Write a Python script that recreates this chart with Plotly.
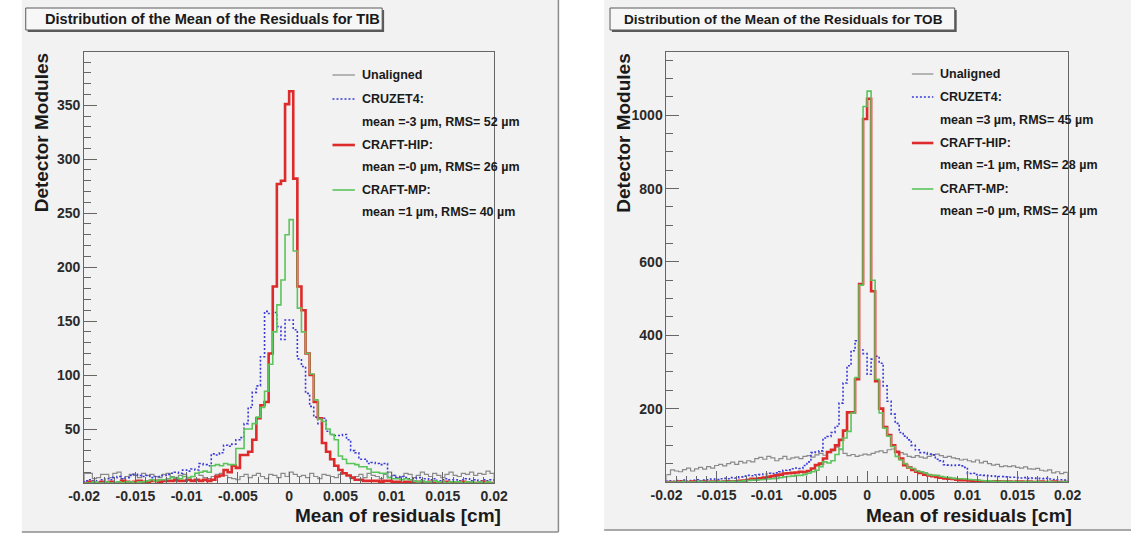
import numpy as np
import plotly.graph_objects as go

# ---------------- data ----------------
BIN_LO, BIN_HI, N_BINS = -0.02, 0.02, 100

TIB_UNALIGNED = [9,9,4,5,8,8,5,9,10,4, 6,8,7,5,9,7,8,6,5,8,
                 9,6,4,7,8,5,6,9,7,5, 4,6,8,9,7,5,4,3,6,8,
                 5,7,9,6,4,8,7,5,9,6, 10,8,6,7,5,9,6,4,8,7,
                 6,5,8,9,7,4,6,8,5,9, 7,6,4,8,10,7,5,6,9,8,
                 5,7,10,8,6,9,7,5,8,10, 7,6,9,8,10,7,9,8,11,9]
TIB_CRUZET4 = [2,3,2,1,3,4,3,5,6,4, 5,7,8,7,6,7,5,6,6,7,
               8,9,10,9,12,11,13,12,18,17, 16,27,26,28,35,34,36,40,42,55,
               70,84,90,117,159,157,158,145,133,151, 151,142,115,108,83,71,61,55,60,48,
               45,44,44,45,40,30,28,22,22,18, 19,18,17,18,6,7,5,6,5,4,
               4,5,3,4,3,4,2,3,4,3, 3,2,3,4,2,3,2,3,2,3]
TIB_CRAFT_HIP = [0,1,0,0,1,0,1,0,0,2, 1,0,1,2,1,1,2,2,1,2,
                 2,2,3,2,2,3,2,3,2,3, 2,3,6,7,12,10,16,14,26,26,
                 29,40,60,72,75,120,182,277,280,351, 363,282,182,160,120,100,75,60,37,29,
                 22,16,12,9,7,5,3,3,2,2, 2,2,1,2,2,1,1,0,1,1,
                 0,1,0,0,1,0,0,0,1,0, 0,0,1,0,0,0,0,1,0,0]
TIB_CRAFT_MP = [0,0,1,0,0,1,0,0,1,0, 1,1,0,1,1,2,3,2,3,3,
                4,5,5,4,6,5,6,9,10,11, 10,16,17,16,18,17,17,32,32,50,
                50,55,61,70,85,110,140,165,188,230, 244,215,162,140,120,101,77,59,57,50,
                45,40,25,22,18,18,17,15,15,13, 10,10,9,9,5,4,4,3,4,3,
                2,1,2,1,1,2,1,1,0,1, 1,1,0,1,1,0,1,0,1,0]

TOB_UNALIGNED = [20,33,30,28,34,38,30,36,40,35, 42,38,45,48,44,50,54,48,56,52,
                 58,55,64,67,62,70,66,58,64,70, 62,66,68,64,70,72,68,74,78,73,
                 80,85,95,88,78,72,75,70,73,76, 74,78,82,85,80,88,90,84,80,76,
                 70,67,72,68,65,70,74,76,72,67, 70,66,64,60,62,58,55,60,52,56,
                 50,46,48,42,44,42,44,40,38,41, 36,35,37,32,30,33,25,28,23,26]
TOB_CRUZET4 = [3,2,4,3,5,2,4,6,3,5, 6,8,7,9,10,9,12,11,14,16,
               18,17,19,20,22,24,23,25,28,32, 33,36,38,37,45,55,80,82,85,120,
               124,135,152,215,270,317,358,385,360,350, 294,335,343,324,262,220,185,160,135,125,
               115,100,88,80,80,76,74,62,58,47, 46,45,46,44,40,23,24,20,19,18,
               17,16,15,15,14,13,13,12,11,12, 10,11,10,9,10,8,7,6,6,5]
TOB_CRAFT_HIP = [0,0,0,1,0,0,1,0,0,1, 0,1,1,0,1,2,1,2,3,4,
                 6,9,8,10,12,14,16,18,20,23, 24,25,26,28,27,30,37,46,50,64,
                 82,88,100,115,140,190,190,280,540,990, 1045,520,275,200,150,128,100,82,64,46,
                 40,33,28,25,20,18,16,14,12,10, 9,8,6,5,5,4,3,3,2,2,
                 2,1,2,1,1,1,0,1,1,0, 1,0,0,1,0,0,1,0,0,0]
TOB_CRAFT_MP = [0,0,0,0,1,0,0,0,1,0, 0,1,0,1,1,1,2,1,2,3,
                4,5,5,6,7,8,9,10,12,14, 15,16,18,18,20,24,28,32,42,55,
                52,58,75,90,120,138,188,285,537,1024, 1066,550,280,188,147,125,97,70,60,50,
                40,37,30,28,25,20,18,18,15,13, 12,10,9,9,8,7,6,5,4,3,
                3,2,2,1,2,1,1,1,0,1, 1,0,1,0,0,1,0,0,0,1]

X_TICKS = [-0.02, -0.015, -0.01, -0.005, 0, 0.005, 0.01, 0.015, 0.02]
X_TICKTEXT = ["-0.02", "-0.015", "-0.01", "-0.005", "0", "0.005", "0.01", "0.015", "0.02"]
TIB_Y_TICKS = [50, 100, 150, 200, 250, 300, 350]
TOB_Y_TICKS = [200, 400, 600, 800, 1000]

SERIES = ["Unaligned", "CRUZET4", "CRAFT-HIP", "CRAFT-MP"]
TIB_STATS = {"CRUZET4": "mean =-3 µm, RMS= 52 µm",
             "CRAFT-HIP": "mean =-0 µm, RMS= 26 µm",
             "CRAFT-MP": "mean =1 µm, RMS= 40 µm"}
TOB_STATS = {"CRUZET4": "mean =3 µm, RMS= 45 µm",
             "CRAFT-HIP": "mean =-1 µm, RMS= 28 µm",
             "CRAFT-MP": "mean =-0 µm, RMS= 24 µm"}

# ---------------- styling ----------------
W, H = 1145, 537
FONT = "Liberation Sans"
STYLE = {
    "Unaligned": dict(color="#8a8a8a", width=1.2, dash="solid"),
    "CRUZET4": dict(color="#3a3ad8", width=1.6, dash="2px,2px"),
    "CRAFT-HIP": dict(color="#dd2a2a", width=2.6, dash="solid"),
    "CRAFT-MP": dict(color="#5cc45c", width=1.6, dash="solid"),
}
CANVAS = "#f2f2f2"

def px(x):
    return x / W

def py(y):
    return 1 - y / H

edges = np.linspace(BIN_LO, BIN_HI, N_BINS + 1)

def step(vals):
    xs = [edges[0]] + list(edges)
    ys = [0] + list(vals) + [0]
    return xs, ys

fig = go.Figure()

panels = [
    ("x", "y", [TIB_UNALIGNED, TIB_CRUZET4, TIB_CRAFT_HIP, TIB_CRAFT_MP]),
    ("x2", "y2", [TOB_UNALIGNED, TOB_CRUZET4, TOB_CRAFT_HIP, TOB_CRAFT_MP]),
]
for xa, ya, data in panels:
    for name, vals in zip(SERIES, data):
        xs, ys = step(vals)
        st = STYLE[name]
        fig.add_trace(go.Scatter(x=xs, y=ys, xaxis=xa, yaxis=ya, mode="lines",
                                 line=dict(shape="hv", color=st["color"], width=st["width"], dash=st["dash"]),
                                 name=name, showlegend=False, hoverinfo="skip"))

tickfont = dict(family=FONT, size=14, color="#2a2a2a", weight="bold")

def xaxis_cfg(domain, anchor):
    return dict(domain=domain, anchor=anchor, range=[BIN_LO, BIN_HI],
                tickvals=X_TICKS, ticktext=X_TICKTEXT, ticks="inside", ticklen=11,
                tickcolor="#666", tickwidth=1, tickfont=tickfont,
                minor=dict(dtick=0.001, tick0=0, ticks="inside", ticklen=6, tickcolor="#666"),
                showline=True, linecolor="#666", linewidth=1, mirror=True,
                showgrid=False, zeroline=False, fixedrange=True)

def yaxis_cfg(domain, anchor, rng, tv, minor_dt):
    return dict(domain=domain, anchor=anchor, range=rng, tickvals=tv,
                ticks="inside", ticklen=13, tickcolor="#666", tickwidth=1, tickfont=tickfont,
                minor=dict(dtick=minor_dt, tick0=0, ticks="inside", ticklen=7, tickcolor="#666"),
                showline=True, linecolor="#666", linewidth=1, mirror=True,
                showgrid=False, zeroline=False, fixedrange=True)

L = dict(x0=70, x1=491, y0=52, y1=483)
R = dict(x0=668, x1=1080, y0=52, y1=482)

fig.update_layout(
    width=W, height=H, margin=dict(l=0, r=0, t=0, b=0),
    paper_bgcolor="white", plot_bgcolor="rgba(0,0,0,0)",
    xaxis=xaxis_cfg([px(L["x0"]), px(L["x1"])], "y"),
    yaxis=yaxis_cfg([py(L["y1"]), py(L["y0"])], "x", [0, max(TIB_CRAFT_HIP) * 1.1], TIB_Y_TICKS, 10),
    xaxis2=xaxis_cfg([px(R["x0"]), px(R["x1"])], "y2"),
    yaxis2=yaxis_cfg([py(R["y1"]), py(R["y0"])], "x2", [0, max(TOB_CRAFT_MP) * 1.1], TOB_Y_TICKS, 50),
    showlegend=False,
)

shapes = []
annotations = []

def rect(x0, y0, x1, y1, fill, line=None, lw=0, layer="below"):
    shapes.append(dict(type="rect", xref="paper", yref="paper",
                       x0=px(x0), x1=px(x1), y0=py(y1), y1=py(y0),
                       fillcolor=fill, line=dict(color=line or fill, width=lw), layer=layer))

def hline(x0, x1, y, color, width, dash="solid", layer="above"):
    shapes.append(dict(type="line", xref="paper", yref="paper", x0=px(x0), x1=px(x1),
                       y0=py(y), y1=py(y), line=dict(color=color, width=width, dash=dash), layer=layer))

def vline(x, y0, y1, color, width):
    shapes.append(dict(type="line", xref="paper", yref="paper", x0=px(x), x1=px(x),
                       y0=py(y0), y1=py(y1), line=dict(color=color, width=width), layer="below"))

def text(x, y, s, size, xanchor="left", angle=0, color="#1a1a1a", bold=True):
    annotations.append(dict(xref="paper", yref="paper", x=px(x), y=py(y), text=s,
                            showarrow=False, xanchor=xanchor, yanchor="middle", textangle=angle,
                            font=dict(family=FONT, size=size, color=color,
                                      weight="bold" if bold else "normal")))

# canvases
rect(6, 0, 557, 532, CANVAS)
vline(557, 0, 532, "#8c8c8c", 1.5)
hline(6, 557, 532, "#8c8c8c", 1.5, layer="below")
rect(604, 0, 1145, 530, CANVAS)
hline(604, 1145, 530, "#8c8c8c", 1.5, layer="below")

# title boxes
for (bx0, bx1, tx, label, fs) in [(10, 376, 28, "Distribution of the Mean of the Residuals for TIB", 14.6),
                                  (610, 964, 622, "Distribution of the Mean of the Residuals for TOB", 13.6)]:
    rect(bx0 + 2, 10, bx1 + 2, 32, "#5a5a5a", layer="above")
    rect(bx0, 8, bx1, 30, "#f7f7f7", line="#5a5a5a", lw=1, layer="above")
    text(tx, 19, label, fs)

# axis titles
text(500, 515, "Mean of residuals [cm]", 19, xanchor="right")
text(1086, 515, "Mean of residuals [cm]", 19, xanchor="right")
text(26, 133, "Detector Modules", 19, xanchor="center", angle=-90)
text(623, 133, "Detector Modules", 19, xanchor="center", angle=-90)

# legends
def legend(lx0, lx1, tx, ys, stats):
    rows = [("Unaligned", None), ("CRUZET4", stats["CRUZET4"]),
            ("CRAFT-HIP", stats["CRAFT-HIP"]), ("CRAFT-MP", stats["CRAFT-MP"])]
    i = 0
    for name, st in rows:
        s = STYLE[name]
        hline(lx0, lx1, ys[i], s["color"], s["width"], s["dash"])
        text(tx, ys[i], name + (":" if st else ""), 12.5)
        i += 1
        if st:
            text(tx, ys[i], st, 12.5)
            i += 1

legend(325, 348, 353, [75, 99, 122, 145, 167, 190, 212], TIB_STATS)
legend(920, 942, 947, [74, 97, 120, 143, 165, 189, 211], TOB_STATS)

fig.update_layout(shapes=shapes, annotations=annotations)
fig.write_html("out.html", config={"displayModeBar": False},
               post_script="document.body.style.margin='0';document.body.style.overflow='hidden';")
